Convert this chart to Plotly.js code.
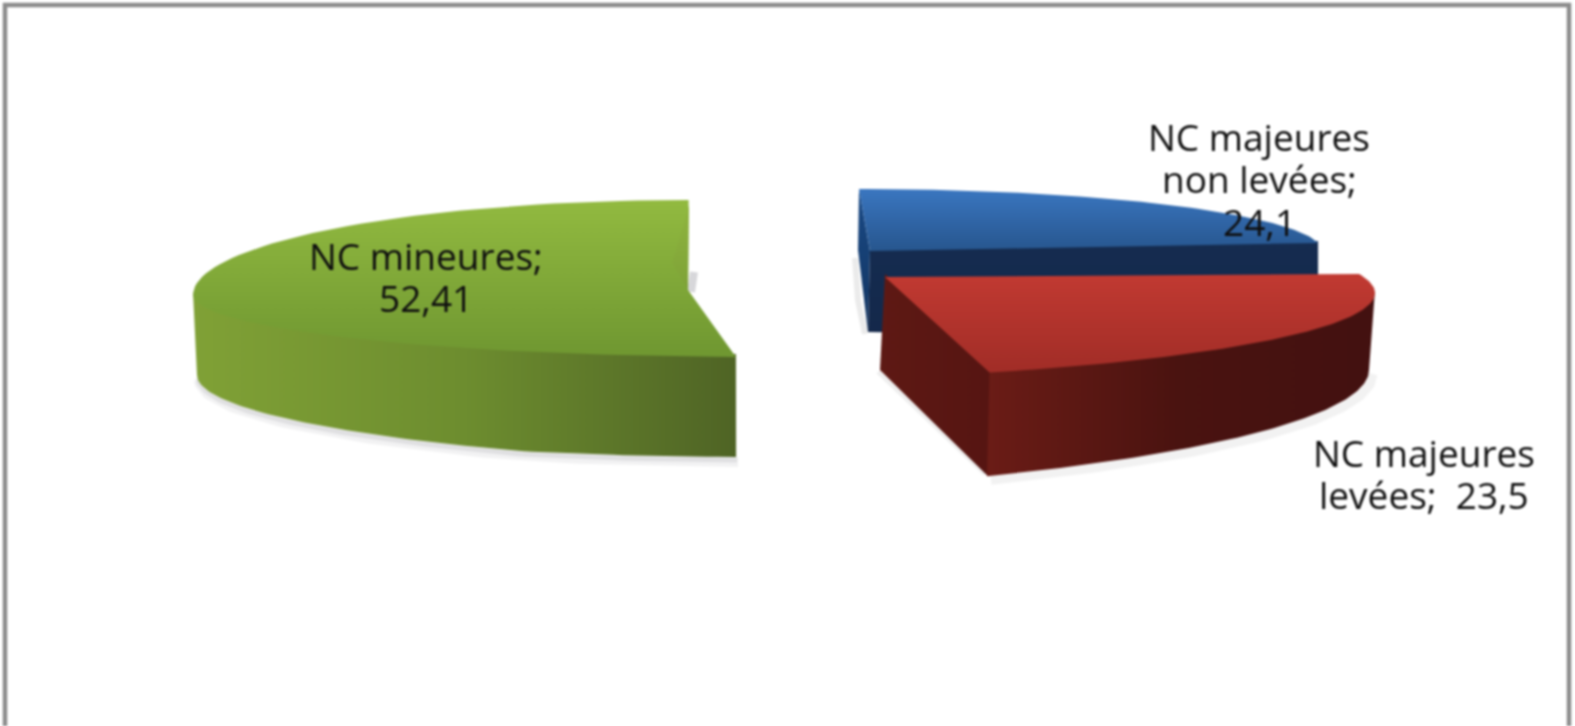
<!DOCTYPE html>
<html><head><meta charset="utf-8">
<script src="https://cdn.plot.ly/plotly-3.0.1.min.js"></script>
<style>html,body{margin:0;padding:0;background:#fff;overflow:hidden}#c{width:1575px;height:726px;filter:blur(0.8px)}</style>
</head><body><div id="c"></div>
<script>
// --- chart data ---
const categories = ['NC majeures<br>non levées', 'NC majeures<br>levées', 'NC mineures'];
const values = [24.1, 23.5, 52.41];
const separators = ['<br>', ' &nbsp;', '<br>'];

// --- 3D projection of the exploded pie (screen px axes) ---
const total = values.reduce((a, b) => a + b, 0);
const bounds = []; let acc = 0;
values.forEach(v => { bounds.push([acc / total * 360, (acc + v) / total * 360]); acc += v; });
const rad = d => d * Math.PI / 180;

const proj = [
  {cxT:859, rxT:463, cxB:859, rxB:463, cy:251, ryT:62, ryB:62, b:0.951, a:0, dA:80, dB:82, wallInset:0},
  {cxT:700, rxT:675, cxB:700, rxB:675, cy:293, ryT:88, ryB:88, b:0.911, a:-1.5, dA:77, dB:104, wallInset:6},
  {cxT:689, rxT:496, cxB:760, rxB:567, cy:295, ryT:95, ryB:62, b:0.941, a:21.2, dA:80, dB:100, wallInset:4}
];
const thetaOf = (p, phi) => (phi - p.a) / p.b;
function topPt(p, phi) {
  const s = Math.sin(rad(phi)), c = Math.cos(rad(phi));
  return [c > 0 ? p.cxT + p.rxT * s : p.cxB + p.rxB * s,
          p.cy - (c > 0 ? p.ryT : p.ryB) * c];
}
function wallDepth(p, phi) {
  const f = Math.min(1, Math.abs(phi > 180 ? 270 - phi : phi - 90) / 65);
  return p.dA + (p.dB - p.dA) * f;
}
function botPt(p, phi) {
  const q = topPt(p, phi), s = Math.sin(rad(phi));
  return [q[0] - p.wallInset * s, q[1] + wallDepth(p, phi)];
}
function arc(p, t0, t1, fn) {
  const out = [], n = 90;
  for (let i = 0; i <= n; i++) { const th = t0 + (t1 - t0) * i / n; out.push(fn(p, p.a + p.b * th)); }
  return out;
}
function poly(pts, colorsList, type, start, stop) {
  const stops = colorsList.map((c, i) => [i / (colorsList.length - 1), c]);
  return {type:'scatter', mode:'lines', x:pts.map(q => q[0]), y:pts.map(q => q[1]), fill:'toself',
    line:{width:0}, hoverinfo:'skip', showlegend:false,
    fillgradient:{type, colorscale:stops, start, stop}};
}
function stroke(pts, color, w) {
  return {type:'scatter', mode:'lines', x:pts.map(q => q[0]), y:pts.map(q => q[1]),
    line:{color, width:w}, hoverinfo:'skip', showlegend:false};
}
const shift = (pts, dx, dy) => pts.map(q => [q[0] + dx, q[1] + dy]);

const traces = [];
// blue
{
  const p = proj[0], [t0, t1] = bounds[0];
  const A = arc(p, t0, t1, topPt), apex = [870, 251], end = A[A.length - 1], st = A[0];
  traces.push(stroke([[855, 258], [858, 300], [865, 334]], 'rgba(130,130,130,0.16)', 6));
  traces.push(poly([st, apex, [868, 332], [858, 250], st], ['#1a4a86', '#123460'], 'vertical', 189, 332));
  traces.push(poly([[870, 249], [end[0], end[1] - 2], [end[0], 340], [868, 332]], ['#152c50', '#14284a'], 'vertical', 243, 340));
  traces.push(poly([apex].concat(A, [apex]), ['#3a76c0', '#27568e'], 'vertical', 189, 251));
}
// green
{
  const p = proj[2], [t0, t1] = bounds[2];
  const A = arc(p, t0, t1, topPt), apex = [688, 290];
  const tLeft = thetaOf(p, 270);
  const B = arc(p, t0, tLeft, botPt);
  const Top = shift(arc(p, t0, tLeft, topPt), 0, -3);
  traces.push(stroke(shift(B, 2, 5), 'rgba(130,130,135,0.10)', 10));
  traces.push(stroke(shift(B, 1, 3), 'rgba(120,120,125,0.14)', 5));
  traces.push(stroke([[694, 272], [691, 292]], 'rgba(140,140,150,0.35)', 8));
  traces.push(poly(Top.concat(B.slice().reverse(), [Top[0]]), ['#80a136', '#6d8d2f', '#4f6425'], 'horizontal', 195, 735));
  traces.push(poly([apex].concat(A, [apex]), ['#92ba40', '#6f9731'], 'vertical', 200, 357));
  traces.push(poly([[689, 205], [672, 263], [688, 290], [689, 205]], ['#8fb53e', '#7ea238'], 'vertical', 205, 290));
}
// red
{
  const p = proj[1], [t0, t1] = bounds[1];
  const A = arc(p, t0, t1, topPt), B = arc(p, t0, t1, botPt), apex = [885, 277];
  const endTop = A[A.length - 1], endBot = B[B.length - 1];
  const tRight = thetaOf(p, 90);
  const W = shift(arc(p, tRight, t1, topPt), 0, -3), WB = arc(p, tRight, t1, botPt);
  traces.push(stroke(shift(WB, 4, 4), 'rgba(130,130,130,0.10)', 9));
  traces.push(stroke([[878, 372], [985, 474]], 'rgba(140,140,140,0.15)', 4));
  traces.push(poly([[885, 274], [endTop[0] + 1, endTop[1] - 2], [endBot[0] + 1, endBot[1]], [880, 370]], ['#5e1914', '#561512'], 'horizontal', 880, 990));
  traces.push(poly(W.concat(WB.slice().reverse(), [W[0]]), ['#431110', '#4a1310', '#6a1c16'], 'horizontal', 1368, 990));
  traces.push(poly([apex].concat(A, [apex]), ['#c23a32', '#9f2c26'], 'vertical', 272, 378));
}

const fmt = v => String(v).replace('.', ',');
const labelAt = [[1259, 136], [1424, 452], [426, 255]];
const leading = 42.5;
const annotations = [];
categories.forEach((c, i) => {
  (c + ';' + separators[i] + fmt(values[i])).split('<br>').forEach((line, k) => {
    annotations.push({
      x: labelAt[i][0], y: labelAt[i][1] + k * leading, xref:'x', yref:'y', showarrow:false, align:'center',
      text: line, font:{family:'"Open Sans", Lato, sans-serif', size:37, color:'#0f0f0f'}
    });
  });
});

const layout = {
  width:1575, height:726, margin:{l:0, r:0, t:0, b:0}, paper_bgcolor:'#fff', plot_bgcolor:'#fff',
  xaxis:{range:[0, 1575], visible:false, fixedrange:true},
  yaxis:{range:[726, 0], visible:false, fixedrange:true},
  showlegend:false, annotations,
  shapes:[{type:'rect', xref:'x', yref:'y', x0:5, y0:5, x1:1569, y1:740, line:{color:'#8c8c8c', width:4.5}, layer:'above'}]
};
Plotly.newPlot('c', traces, layout, {displayModeBar:false, staticPlot:true});
</script></body></html>
